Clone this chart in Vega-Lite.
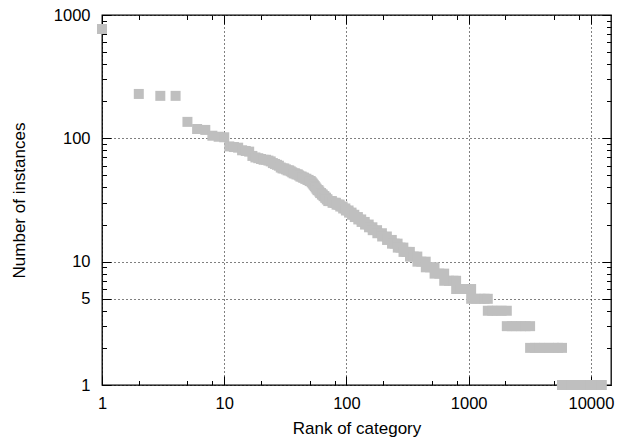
{
  "$schema": "https://vega.github.io/schema/vega-lite/v6.json",
  "width": 509,
  "height": 370,
  "autosize": {"type": "none"},
  "padding": {"left": 102, "top": 15, "right": 7, "bottom": 54},
  "background": "white",
  "config": {
    "view": {"stroke": "black", "strokeWidth": 1.3},
    "axis": {
      "domain": false,
      "ticks": true,
      "tickColor": "black",
      "tickWidth": 1,
      "tickOpacity": 1,
      "labelFont": "Liberation Sans",
      "labelFontSize": 16.5,
      "labelColor": "black",
      "titleFont": "Liberation Sans",
      "titleFontSize": 17,
      "titleFontWeight": "normal",
      "titleColor": "black",
      "gridColor": "black",
      "gridDash": [1, 3],
      "gridWidth": 1
    }
  },
  "data": {
    "values": [
      {"rank": 1, "count": 770}, {"rank": 2, "count": 229}, {"rank": 3, "count": 221}, {"rank": 4, "count": 221},
      {"rank": 5, "count": 136}, {"rank": 6, "count": 119}, {"rank": 7, "count": 117}, {"rank": 8, "count": 105},
      {"rank": 9, "count": 103}, {"rank": 10, "count": 102}, {"rank": 11, "count": 86}, {"rank": 12, "count": 85},
      {"rank": 13, "count": 84}, {"rank": 14, "count": 80}, {"rank": 15, "count": 79}, {"rank": 16, "count": 78},
      {"rank": 17, "count": 72}, {"rank": 18, "count": 70}, {"rank": 19, "count": 69}, {"rank": 20, "count": 68},
      {"rank": 21, "count": 67}, {"rank": 22, "count": 67}, {"rank": 23, "count": 66}, {"rank": 24, "count": 65},
      {"rank": 25, "count": 63}, {"rank": 26, "count": 62}, {"rank": 27, "count": 61}, {"rank": 28, "count": 60},
      {"rank": 29, "count": 58}, {"rank": 30, "count": 57}, {"rank": 31, "count": 57}, {"rank": 32, "count": 56},
      {"rank": 33, "count": 55}, {"rank": 34, "count": 55}, {"rank": 35, "count": 54}, {"rank": 36, "count": 53},
      {"rank": 37, "count": 52}, {"rank": 38, "count": 52}, {"rank": 39, "count": 51}, {"rank": 40, "count": 51},
      {"rank": 41, "count": 50}, {"rank": 42, "count": 49}, {"rank": 43, "count": 49}, {"rank": 44, "count": 48},
      {"rank": 45, "count": 48}, {"rank": 46, "count": 47}, {"rank": 47, "count": 47}, {"rank": 48, "count": 46},
      {"rank": 49, "count": 46}, {"rank": 50, "count": 45}, {"rank": 51, "count": 45}, {"rank": 52, "count": 44},
      {"rank": 53, "count": 43}, {"rank": 54, "count": 42}, {"rank": 55, "count": 41}, {"rank": 56, "count": 40},
      {"rank": 57, "count": 39}, {"rank": 58, "count": 38}, {"rank": 59, "count": 38}, {"rank": 60, "count": 37},
      {"rank": 61, "count": 36}, {"rank": 62, "count": 36}, {"rank": 63, "count": 35}, {"rank": 64, "count": 35},
      {"rank": 65, "count": 34}, {"rank": 66, "count": 34}, {"rank": 67, "count": 33}, {"rank": 68, "count": 33},
      {"rank": 69, "count": 32}, {"rank": 70, "count": 32},
      {"rank": 71, "count": 31}, {"rank": 73, "count": 31}, {"rank": 76, "count": 31},
      {"rank": 77, "count": 30}, {"rank": 80, "count": 30}, {"rank": 82, "count": 30},
      {"rank": 83, "count": 29}, {"rank": 86, "count": 29}, {"rank": 88, "count": 29},
      {"rank": 89, "count": 28}, {"rank": 93, "count": 28},
      {"rank": 94, "count": 27}, {"rank": 98, "count": 27},
      {"rank": 99, "count": 26}, {"rank": 104, "count": 26},
      {"rank": 105, "count": 25}, {"rank": 110, "count": 25},
      {"rank": 111, "count": 24}, {"rank": 116, "count": 24},
      {"rank": 117, "count": 23}, {"rank": 124, "count": 23},
      {"rank": 125, "count": 22}, {"rank": 132, "count": 22},
      {"rank": 133, "count": 21}, {"rank": 141, "count": 21},
      {"rank": 142, "count": 20}, {"rank": 152, "count": 20},
      {"rank": 153, "count": 19}, {"rank": 163, "count": 19},
      {"rank": 164, "count": 18}, {"rank": 178, "count": 18},
      {"rank": 179, "count": 17}, {"rank": 195, "count": 17},
      {"rank": 196, "count": 16}, {"rank": 214, "count": 16},
      {"rank": 215, "count": 15}, {"rank": 235, "count": 15},
      {"rank": 236, "count": 14}, {"rank": 248, "count": 14}, {"rank": 262, "count": 14},
      {"rank": 263, "count": 13}, {"rank": 277, "count": 13}, {"rank": 292, "count": 13},
      {"rank": 293, "count": 12}, {"rank": 310, "count": 12}, {"rank": 330, "count": 12},
      {"rank": 331, "count": 11}, {"rank": 355, "count": 11}, {"rank": 380, "count": 11},
      {"rank": 381, "count": 10}, {"rank": 410, "count": 10}, {"rank": 445, "count": 10},
      {"rank": 446, "count": 9}, {"rank": 484, "count": 9}, {"rank": 525, "count": 9},
      {"rank": 526, "count": 8}, {"rank": 575, "count": 8}, {"rank": 630, "count": 8},
      {"rank": 631, "count": 7}, {"rank": 690, "count": 7}, {"rank": 750, "count": 7}, {"rank": 789, "count": 7},
      {"rank": 790, "count": 6}, {"rank": 860, "count": 6}, {"rank": 950, "count": 6}, {"rank": 1047, "count": 6},
      {"rank": 1048, "count": 5}, {"rank": 1140, "count": 5}, {"rank": 1250, "count": 5}, {"rank": 1350, "count": 5}, {"rank": 1433, "count": 5},
      {"rank": 1434, "count": 4}, {"rank": 1560, "count": 4}, {"rank": 1700, "count": 4}, {"rank": 1860, "count": 4}, {"rank": 2050, "count": 4},
      {"rank": 2051, "count": 3}, {"rank": 2250, "count": 3}, {"rank": 2450, "count": 3}, {"rank": 2680, "count": 3}, {"rank": 2920, "count": 3}, {"rank": 3180, "count": 3},
      {"rank": 3181, "count": 2}, {"rank": 3480, "count": 2}, {"rank": 3800, "count": 2}, {"rank": 4150, "count": 2}, {"rank": 4550, "count": 2}, {"rank": 4980, "count": 2}, {"rank": 5400, "count": 2}, {"rank": 5800, "count": 2},
      {"rank": 5801, "count": 1}, {"rank": 6350, "count": 1}, {"rank": 6950, "count": 1}, {"rank": 7600, "count": 1}, {"rank": 8300, "count": 1}, {"rank": 9100, "count": 1}, {"rank": 9950, "count": 1}, {"rank": 10900, "count": 1}, {"rank": 11900, "count": 1}, {"rank": 12280, "count": 1}
    ]
  },
  "layer": [
    {
      "mark": {"type": "point", "opacity": 0},
      "encoding": {
        "x": {
          "field": "rank", "type": "quantitative",
          "scale": {"type": "log", "domain": [1, 14600], "nice": false},
          "axis": {
            "orient": "bottom", "tickSize": -4.5,
            "values": [2, 5, 8, 20, 50, 80, 200, 500, 800, 2000, 5000, 8000],
            "labels": false, "grid": false, "title": null
          }
        },
        "y": {
          "field": "count", "type": "quantitative",
          "scale": {"type": "log", "domain": [1, 1000], "nice": false},
          "axis": {
            "orient": "left", "tickSize": -4.5,
            "values": [2, 3, 4, 6, 7, 8, 9, 20, 30, 40, 50, 60, 70, 80, 90, 200, 300, 400, 500, 600, 700, 800, 900],
            "labels": false, "grid": false, "title": null
          }
        }
      }
    },
    {
      "mark": {"type": "point", "opacity": 0},
      "encoding": {
        "x": {
          "field": "rank", "type": "quantitative",
          "axis": {
            "orient": "top", "tickSize": -4.5,
            "values": [2, 5, 8, 20, 50, 80, 200, 500, 800, 2000, 5000, 8000],
            "labels": false, "grid": false, "title": null
          }
        },
        "y": {
          "field": "count", "type": "quantitative",
          "axis": {
            "orient": "right", "tickSize": -4.5,
            "values": [2, 3, 4, 6, 7, 8, 9, 20, 30, 40, 50, 60, 70, 80, 90, 200, 300, 400, 500, 600, 700, 800, 900],
            "labels": false, "grid": false, "title": null
          }
        }
      }
    },
    {
      "mark": {"type": "point", "opacity": 0},
      "encoding": {
        "x": {
          "field": "rank", "type": "quantitative",
          "axis": {
            "orient": "bottom", "tickSize": -9,
            "values": [1, 10, 100, 1000, 10000],
            "labels": false, "grid": false, "title": null
          }
        },
        "y": {
          "field": "count", "type": "quantitative",
          "axis": {
            "orient": "left", "tickSize": -9,
            "values": [1, 5, 10, 100, 1000],
            "labels": false, "grid": false, "title": null
          }
        }
      }
    },
    {
      "mark": {"type": "point", "opacity": 0},
      "encoding": {
        "x": {
          "field": "rank", "type": "quantitative",
          "axis": {
            "orient": "top", "tickSize": -9,
            "values": [1, 10, 100, 1000, 10000],
            "labels": false, "grid": false, "title": null
          }
        },
        "y": {
          "field": "count", "type": "quantitative",
          "axis": {
            "orient": "right", "tickSize": -9,
            "values": [1, 5, 10, 100, 1000],
            "labels": false, "grid": false, "title": null
          }
        }
      }
    },
    {
      "mark": {"type": "square", "size": 100, "color": "#bfbfbf", "opacity": 1, "filled": true},
      "encoding": {
        "x": {
          "field": "rank", "type": "quantitative",
          "axis": {
            "orient": "bottom",
            "values": [1, 10, 100, 1000, 10000],
            "format": "d",
            "ticks": false,
            "grid": true,
            "labelPadding": 10.5,
            "labelFlush": false,
            "labelOverlap": false,
            "title": "Rank of category",
            "titleX": 254.5,
            "titleY": 48,
            "titleAlign": "center",
            "titleBaseline": "alphabetic"
          }
        },
        "y": {
          "field": "count", "type": "quantitative",
          "axis": {
            "orient": "left",
            "values": [1, 5, 10, 100, 1000],
            "format": "d",
            "ticks": false,
            "grid": true,
            "labelPadding": 12,
            "labelFlush": false,
            "labelOverlap": false,
            "title": "Number of instances",
            "titleX": -78,
            "titleY": 185,
            "titleAngle": -90,
            "titleAlign": "center",
            "titleBaseline": "alphabetic"
          }
        }
      }
    }
  ],
  "resolve": {"axis": {"x": "independent", "y": "independent"}}
}
